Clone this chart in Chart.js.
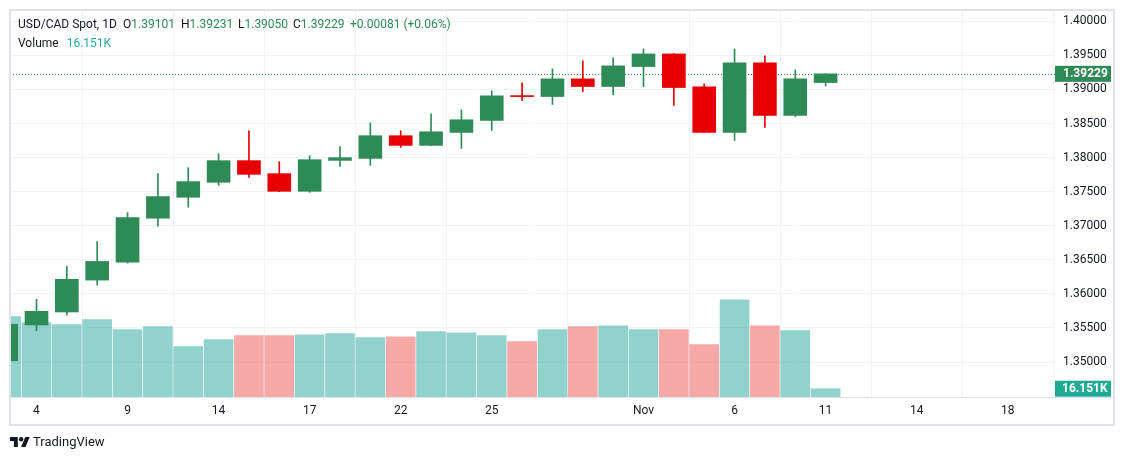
<!DOCTYPE html>
<html>
<head>
<meta charset="utf-8">
<script src="https://cdn.jsdelivr.net/npm/chart.js@4.4.1/dist/chart.umd.min.js"></script>
<style>
html,body{margin:0;padding:0;background:#fff;width:1125px;height:460px;overflow:hidden;}
body{font-family:Roboto,"Liberation Sans",sans-serif;color:#131722;}
#c{position:absolute;left:0;top:0;}
.lg{position:absolute;font-size:12px;white-space:nowrap;line-height:14px;}
.g{color:#2e8b57;}
.t{color:#22ab94;}
#foot{position:absolute;left:10px;top:434px;height:16px;white-space:nowrap;}
#foot svg{position:absolute;left:0;top:3px;}
#foot span{position:absolute;left:23px;top:0;font-size:13px;color:#131722;line-height:16px;}
</style>
</head>
<body>
<canvas id="c" width="1125" height="460"></canvas>
<div class="lg" style="left:18px;top:17px">USD/CAD Spot, 1D</div>
<div class="lg" style="left:123px;top:17px">O<span class="g" id="vo"></span></div>
<div class="lg" style="left:181px;top:17px">H<span class="g" id="vh"></span></div>
<div class="lg" style="left:238px;top:17px">L<span class="g" id="vl"></span></div>
<div class="lg" style="left:293px;top:17px">C<span class="g" id="vc"></span></div>
<div class="lg g" style="left:350px;top:17px" id="vchg"></div>
<div class="lg" style="left:18px;top:36px">Volume<span class="t" id="vv" style="margin-left:8px"></span></div>
<div id="foot">
<svg width="20" height="10" viewBox="0 4 36 18"><path fill="#131722" d="M14 22H7V11H0V4h14v18zM28 22h-8l7.5-18h8L28 22z"/><circle fill="#131722" cx="20" cy="8" r="4"/></svg>
<span>TradingView</span>
</div>
<script>
// ---- data ----
const dates = ["Oct 3","Oct 4","Oct 7","Oct 8","Oct 9","Oct 10","Oct 11","Oct 14","Oct 15","Oct 16","Oct 17","Oct 18","Oct 21","Oct 22","Oct 23","Oct 24","Oct 25","Oct 28","Oct 29","Oct 30","Oct 31","Nov 1","Nov 4","Nov 5","Nov 6","Nov 7","Nov 8","Nov 11"];
const opens  = [1.35017,1.35544,1.35734,1.36202,1.36466,1.37110,1.37418,1.37637,1.37955,1.37764,1.37505,1.37959,1.37988,1.38321,1.38179,1.38369,1.38545,1.38906,1.38896,1.39155,1.39043,1.39336,1.39521,1.39038,1.38369,1.39390,1.38618,1.39101];
const highs  = [1.35560,1.35920,1.36403,1.36769,1.37193,1.37764,1.37852,1.38057,1.38394,1.37940,1.38028,1.38160,1.38511,1.38394,1.38643,1.38701,1.38980,1.39097,1.39302,1.39419,1.39463,1.39594,1.39525,1.39082,1.39594,1.39492,1.39287,1.39231];
const lows   = [1.35000,1.35456,1.35686,1.36129,1.36451,1.36993,1.37271,1.37593,1.37710,1.37500,1.37490,1.37871,1.37886,1.38149,1.38175,1.38135,1.38398,1.38838,1.38779,1.38969,1.38925,1.39043,1.38764,1.38365,1.38252,1.38442,1.38603,1.39050];
const closes = [1.35554,1.35744,1.36213,1.36476,1.37120,1.37428,1.37647,1.37955,1.37754,1.37505,1.37969,1.37999,1.38321,1.38179,1.38379,1.38555,1.38906,1.38895,1.39155,1.39043,1.39346,1.39521,1.39028,1.38369,1.39390,1.38618,1.39155,1.39229];
const volumesK = [156.3,144.6,140.7,150.4,131.0,136.8,97.9,111.5,119.3,119.3,121.2,123.2,115.4,117.3,127.1,125.1,119.3,107.6,131.0,136.8,138.7,131.0,131.0,101.8,189.3,138.7,129.0,16.151];
const xTickIndex  = [1,4,7,10,13,16,21,24,27,30,33];
const xTickLabels = ["4","9","14","17","22","25","Nov","6","11","14","18"];
const priceTicks  = [1.35,1.355,1.36,1.365,1.37,1.375,1.38,1.385,1.39,1.395,1.40];
const prevClose = 1.39148;

const UP = '#2e8b57', DOWN = '#e60000';
const VUP = 'rgba(38,166,154,0.5)', VDOWN = 'rgba(239,83,80,0.5)';
const isUp = closes.map((c,i)=> c >= opens[i]);
const FONT = 'Roboto, "Liberation Sans", sans-serif';

const last = closes.length - 1;
document.getElementById('vo').textContent = opens[last].toFixed(5);
document.getElementById('vh').textContent = highs[last].toFixed(5);
document.getElementById('vl').textContent = lows[last].toFixed(5);
document.getElementById('vc').textContent = closes[last].toFixed(5);
const chg = closes[last]-prevClose;
document.getElementById('vchg').textContent = (chg>=0?'+':'')+chg.toFixed(5)+' ('+(chg>=0?'+':'')+(chg/prevClose*100).toFixed(2)+'%)';
document.getElementById('vv').textContent = volumesK[last].toFixed(3)+'K';

const overlay = {
  id:'overlay',
  beforeDatasetsDraw(chart){
    const {ctx, chartArea:a, scales:{y}} = chart;
    const py = Math.round(y.getPixelForValue(closes[last]))+0.5;
    ctx.save();
    ctx.strokeStyle = UP; ctx.lineWidth = 1; ctx.setLineDash([1,2]);
    ctx.beginPath(); ctx.moveTo(a.left, py); ctx.lineTo(a.right, py); ctx.stroke();
    ctx.restore();
  },
  afterDraw(chart){
    const {ctx, chartArea:a, scales:{y, yv}} = chart;
    ctx.save();
    ctx.strokeStyle = '#e0e3eb'; ctx.lineWidth = 1;
    ctx.beginPath(); ctx.moveTo(a.left, a.bottom+0.5); ctx.lineTo(1114, a.bottom+0.5); ctx.stroke();
    ctx.lineWidth = 2;
    ctx.strokeRect(10, 10, 1104, 415);
    const py = y.getPixelForValue(closes[last]);
    ctx.fillStyle = UP;
    ctx.fillRect(a.right, py-8, 56, 16);
    ctx.fillStyle = '#fff'; ctx.font = 'bold 12px '+FONT; ctx.textBaseline='middle'; ctx.textAlign='left';
    ctx.fillText(closes[last].toFixed(5), a.right+8, py+0.5);
    const vy = yv.getPixelForValue(volumesK[last]);
    ctx.fillStyle = '#22ab94';
    ctx.fillRect(a.right, vy-8, 56, 16);
    ctx.fillStyle = '#fff';
    ctx.fillText(volumesK[last].toFixed(3)+'K', a.right+7, vy+0.5);
    ctx.restore();
  }
};

function noPad(s){ s.paddingTop = 0; s.paddingBottom = 0; s.paddingLeft = 0; s.paddingRight = 0; }

new Chart(document.getElementById('c'), {
  type:'bar',
  data:{
    datasets:[
      { label:'body', order:0, grouped:false, barThickness:23, minBarLength:1,
        data: closes.map((c,i)=>({x:i, y:[opens[i], c]})),
        backgroundColor: isUp.map(u=>u?UP:DOWN), borderWidth:0, yAxisID:'y' },
      { label:'wick', order:1, grouped:false, barThickness:1,
        data: highs.map((h,i)=>({x:i, y:[lows[i], h]})),
        backgroundColor: isUp.map(u=>u?UP:DOWN), borderWidth:0, yAxisID:'y' },
      { label:'volume', order:2, grouped:false, barThickness:29,
        data: volumesK.map((v,i)=>({x:i, y:v})),
        backgroundColor: isUp.map(u=>u?VUP:VDOWN), borderWidth:0, yAxisID:'yv' }
    ]
  },
  options:{
    responsive:false, animation:false, devicePixelRatio:1,
    layout:{padding:{left:10, top:10, right:11, bottom:35}},
    plugins:{legend:{display:false}, tooltip:{enabled:false}},
    scales:{
      x:{ type:'linear', min:0.127, max:34.558, offset:false,
          grid:{color:'#f0f3fa', drawTicks:false},
          border:{display:false},
          afterBuildTicks:s=>{ s.ticks = xTickIndex.map(v=>({value:v})); },
          afterFit:s=>{ s.height = 28; noPad(s); },
          ticks:{ autoSkip:false, maxRotation:0, padding:7, color:'#131722',
                  font:{size:12, family:FONT},
                  callback:(v,i)=> xTickLabels[i] } },
      y:{ type:'linear', position:'right', min:1.344866, max:1.401658,
          grid:{color:'#f0f3fa', drawTicks:false},
          border:{display:false},
          afterBuildTicks:s=>{ s.ticks = priceTicks.map(v=>({value:v})); },
          afterFit:s=>{ s.width = 59; noPad(s); },
          ticks:{ padding:8, color:'#131722', font:{size:12, family:FONT},
                  callback:v=> Number(v).toFixed(5) } },
      yv:{ type:'linear', display:false, min:0, max:753, afterFit:noPad }
    }
  },
  plugins:[overlay]
});
</script>
</body>
</html>
